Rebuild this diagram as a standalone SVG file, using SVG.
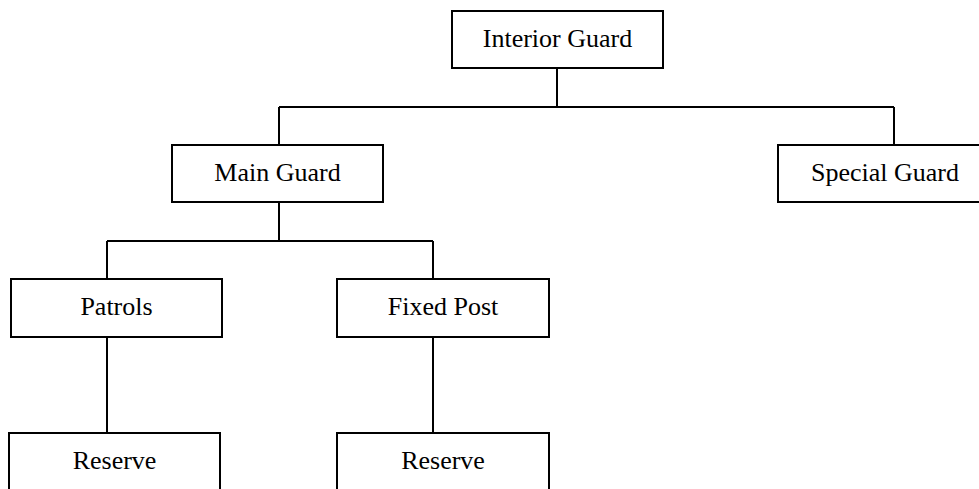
<svg xmlns="http://www.w3.org/2000/svg" width="979" height="489" viewBox="0 0 979 489">
<style>
.box{fill:#fff;stroke:#000;stroke-width:2}
.lbl{font-family:"Liberation Serif","Times New Roman",serif;font-size:26px;fill:#000;text-anchor:middle}
.conn{fill:none;stroke:#000;stroke-width:2}
</style>
<rect width="979" height="489" fill="#fff"/>
<g id="connectors" class="conn">
<path d="M557 68V107M279 107H894M279 107V145M894 107V145"/>
<path d="M279 202V241M107 241H433M107 241V279M433 241V279"/>
<path d="M107 337V433M433 337V433"/>
</g>
<g id="interior-guard"><rect class="box" x="452" y="11" width="211" height="57"/><text class="lbl" x="557.5" y="47">Interior Guard</text></g>
<g id="main-guard"><rect class="box" x="172" y="145" width="211" height="57"/><text class="lbl" x="277.5" y="181">Main Guard</text></g>
<g id="special-guard"><rect class="box" x="778" y="145" width="214" height="57"/><text class="lbl" x="885" y="181">Special Guard</text></g>
<g id="patrols"><rect class="box" x="11" y="279" width="211" height="58"/><text class="lbl" x="116.5" y="315">Patrols</text></g>
<g id="fixed-post"><rect class="box" x="337" y="279" width="212" height="58"/><text class="lbl" x="443" y="315">Fixed Post</text></g>
<g id="reserve-1"><rect class="box" x="9" y="433" width="211" height="70"/><text class="lbl" x="114.5" y="469">Reserve</text></g>
<g id="reserve-2"><rect class="box" x="337" y="433" width="212" height="70"/><text class="lbl" x="443" y="469">Reserve</text></g>
</svg>
